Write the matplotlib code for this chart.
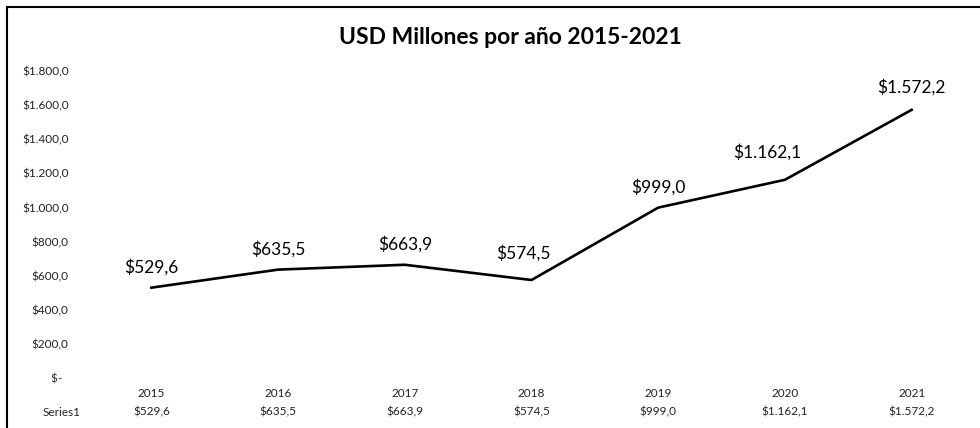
import matplotlib
matplotlib.use('Agg')
import matplotlib.pyplot as plt
from matplotlib.lines import Line2D

years = ['2015', '2016', '2017', '2018', '2019', '2020', '2021']
usd_millones = [529.6, 635.5, 663.9, 574.5, 999.0, 1162.1, 1572.2]
series_name = 'Series1'
title = 'USD Millones por año 2015-2021'
y_ticks = [0, 200, 400, 600, 800, 1000, 1200, 1400, 1600, 1800]

plt.rcParams['font.family'] = ['Lato', 'DejaVu Sans']


def money(v):
    # formato contable: $1.572,2 / $-
    if v == 0:
        return '$-  '
    s = f'{v:,.1f}'
    s = s.replace(',', 'X').replace('.', ',').replace('X', '.')
    return '$' + s


W, H = 980, 428
fig = plt.figure(figsize=(W / 100, H / 100), dpi=100)
ax = fig.add_axes([88 / W, (H - 378) / H, (975 - 88) / W, (378 - 71) / H])

x = list(range(len(years)))
ax.plot(x, usd_millones, color='black', linewidth=1.9, solid_joinstyle='round')

# etiquetas movidas a mano en el original (pts)
label_shift = [(0, 15), (0, 15), (0, 15), (-6, 19), (0, 15), (-13, 20), (0, 16)]
for xi, v, off in zip(x, usd_millones, label_shift):
    ax.annotate(money(v), (xi, v), xytext=off, textcoords='offset points',
                ha='center', va='center', fontsize=12.5, color='black')

ax.set_xlim(-0.5, len(years) - 0.5)
ax.set_ylim(0, 1800)
ax.set_yticks(y_ticks)
ax.set_yticklabels([money(t) for t in y_ticks])
ax.tick_params(axis='y', length=0, pad=14, labelsize=8.5, labelcolor='#222222')

ax.set_xticks(x)
ax.set_xticklabels(years)
ax.tick_params(axis='x', length=0, pad=7, labelsize=8.5, labelcolor='#222222')

# fila de la tabla de datos
tr = ax.get_xaxis_transform()
for xi, v in zip(x, usd_millones):
    ax.text(xi, -34 / 307, money(v), transform=tr, ha='center', va='center',
            fontsize=8.5, color='#222222')
ax.text(62 / W, (H - 412) / H, series_name, transform=fig.transFigure,
        ha='center', va='center', fontsize=8.5, color='#222222')

for s in ax.spines.values():
    s.set_visible(False)

fig.text(510 / W, (H - 38) / H, title, ha='center', va='center',
         fontsize=16.5, fontweight='bold', color='black')

# borde del gráfico
fig.add_artist(Line2D([7 / W, 7 / W], [0, 1 - 7 / H], transform=fig.transFigure,
                      color='black', linewidth=1.5))
fig.add_artist(Line2D([7 / W, 1], [1 - 7 / H, 1 - 7 / H], transform=fig.transFigure,
                      color='black', linewidth=1.5))

fig.savefig('out.png', dpi=100)
